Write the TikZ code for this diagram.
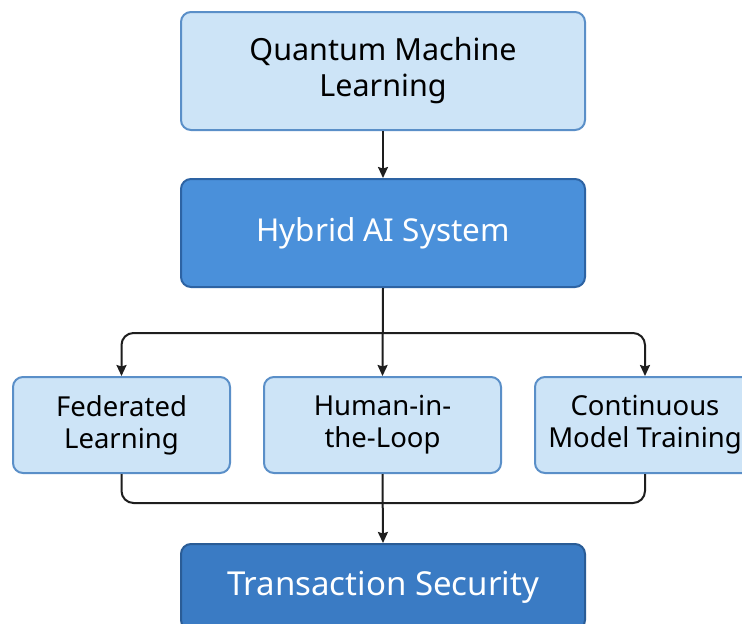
\documentclass[tikz,border=0pt]{standalone}
\usepackage{fontspec}
\setmainfont{Noto Sans}
\usetikzlibrary{arrows.meta}

\definecolor{lightfill}{HTML}{CDE4F7}
\definecolor{lightedge}{HTML}{5A8FC8}
\definecolor{midfill}{HTML}{4A90DA}
\definecolor{midedge}{HTML}{2D63A3}
\definecolor{darkfill}{HTML}{3A7BC4}
\definecolor{darkedge}{HTML}{2A5C96}
\definecolor{linecol}{HTML}{1E1E1E}

\tikzset{
  box/.style={rectangle, rounded corners=10pt, line width=2pt, align=center,
    inner sep=0pt},
  lightbox/.style={box, fill=lightfill, draw=lightedge, text=black},
  midbox/.style={box, fill=midfill, draw=midedge, text=white},
  darkbox/.style={box, fill=darkfill, draw=darkedge, text=white},
  conn/.style={draw=linecol, line width=2pt, rounded corners=12pt},
  arr/.style={conn, -{Stealth[length=11pt,width=10pt,inset=1.5pt]}},
  rowfont/.style={font=\fontsize{27.5}{32}\selectfont}
}

\begin{document}
\begin{tikzpicture}[x=1pt,y=-1pt]
  \useasboundingbox (0,0) rectangle (742,624);
  \clip (0,0) rectangle (742,624);
  \fill[white] (0,0) rectangle (742,624);

  % main chain
  \node[lightbox, minimum width=404pt, minimum height=118pt,
        font=\fontsize{30.5}{36}\selectfont] (qml) at (383,71)
        {Quantum Machine\\Learning};
  \node[midbox, minimum width=404pt, minimum height=108pt,
        font=\fontsize{31.5}{36}\selectfont] (hyb) at (383,233)
        {Hybrid AI System};

  % three parallel components
  \node[lightbox, rowfont, minimum width=217pt, minimum height=96pt]
        (fed) at (121.5,425) {Federated\\Learning};
  \node[lightbox, rowfont, minimum width=237pt, minimum height=96pt]
        (hum) at (382.5,425) {Human-in-\\the-Loop};
  \node[lightbox, rowfont, minimum width=220pt, minimum height=96pt]
        (cont) at (645,425) {Continuous\\Model Training\hspace{4pt}};

  % outcome
  \node[darkbox, minimum width=404pt, minimum height=86pt,
        font=\fontsize{33}{38}\selectfont] (tsec) at (383,587)
        {Transaction Security};

  % distribution bus and merge bus
  \coordinate (split) at (383,333);
  \coordinate (merge) at (383,503);

  \draw[arr] (qml.south) -- (hyb.north);
  \draw[arr] (hyb.south) -- (hum.north);
  \draw[arr] (split) -| (fed.north);
  \draw[arr] (split) -| (cont.north);
  \draw[conn] (fed.south) |- (merge) -| (cont.south);
  \draw[arr] (hum.south) -- (tsec.north);
\end{tikzpicture}
\end{document}
